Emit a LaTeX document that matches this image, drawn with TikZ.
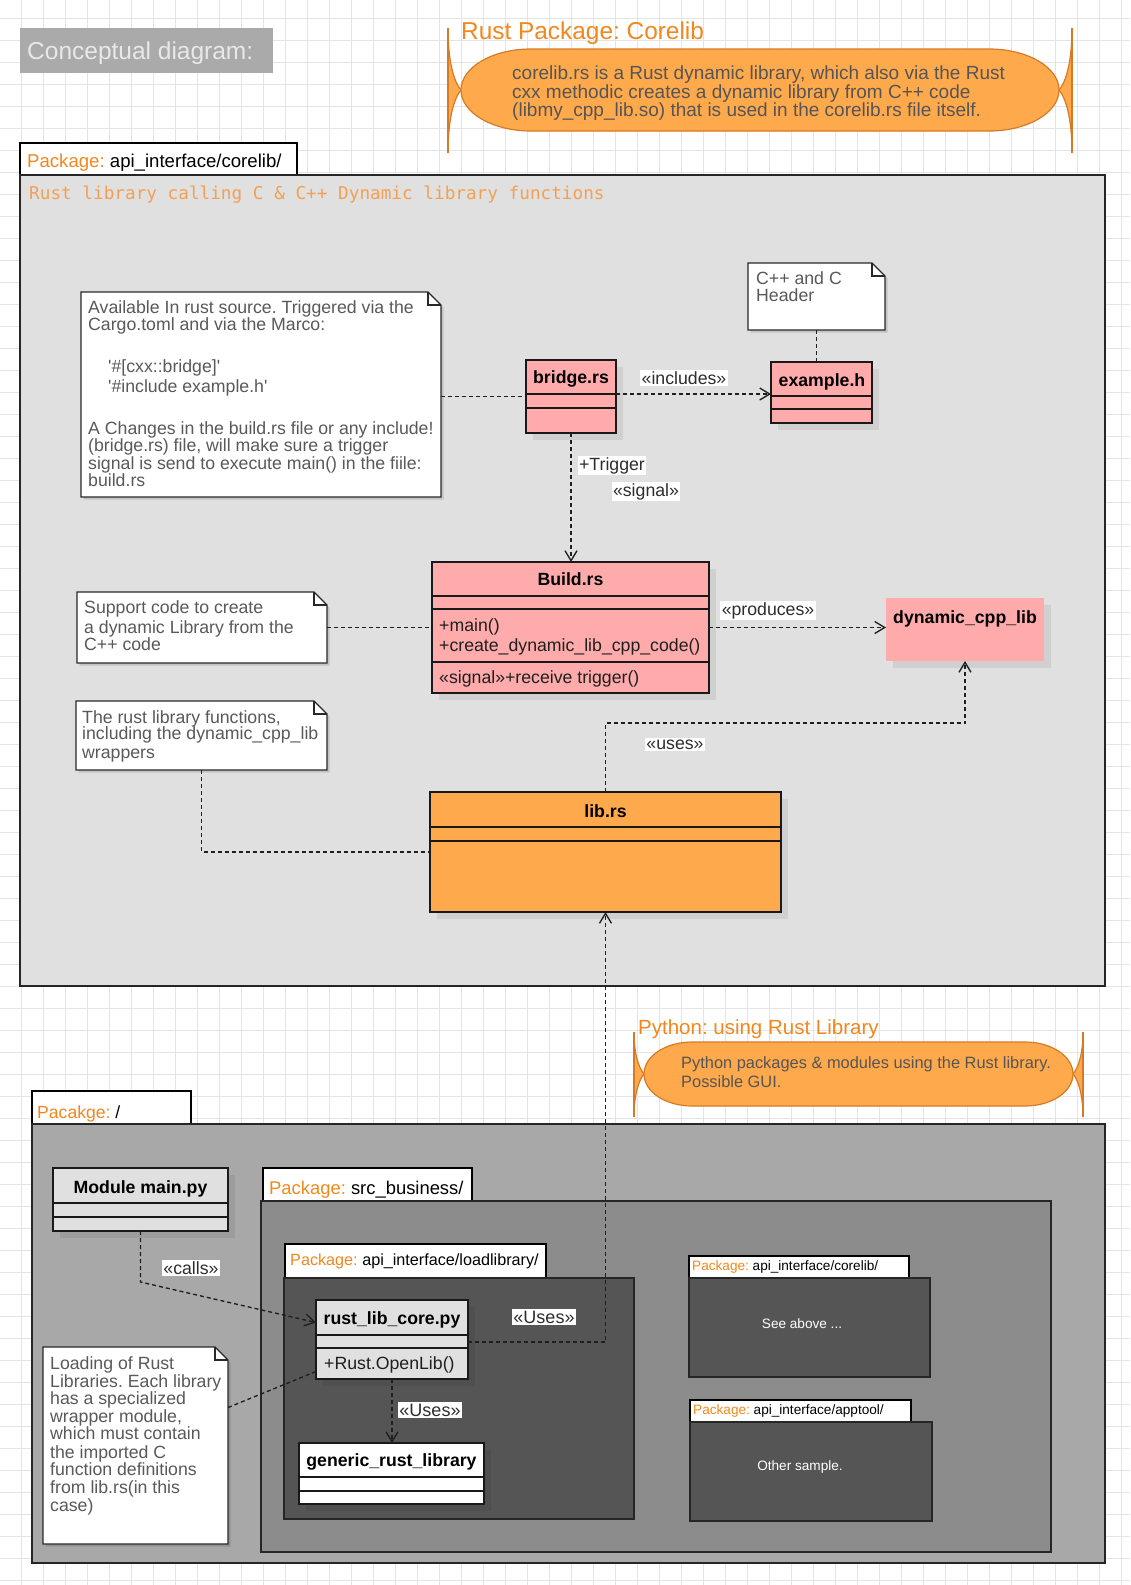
\documentclass[tikz,border=0pt]{standalone}
\usepackage{fontspec}
\setmainfont{Liberation Sans}
\newfontfamily\monof{DejaVu Sans Mono}
\newfontfamily\nolig{Liberation Sans}[Ligatures=TeXOff]
\usetikzlibrary{arrows.meta,shadows}
\definecolor{gridc}{RGB}{228,228,228}
\definecolor{orng}{RGB}{240,136,30}
\definecolor{orngmono}{RGB}{243,160,84}
\definecolor{ofill}{RGB}{255,169,77}
\definecolor{oline}{RGB}{214,122,36}
\definecolor{pinkf}{RGB}{255,171,171}
\definecolor{lgray}{RGB}{224,224,224}
\definecolor{mgray}{RGB}{168,168,168}
\definecolor{sgray}{RGB}{140,140,140}
\definecolor{dgray}{RGB}{85,85,85}
\definecolor{notetxt}{RGB}{89,89,89}
\definecolor{notec}{RGB}{40,40,40}
\definecolor{labc}{RGB}{45,45,45}
\definecolor{titlebg}{RGB}{170,170,170}
\definecolor{titletx}{RGB}{232,232,232}
\frenchspacing
\newcommand{\fsz}[1]{\fontsize{#1}{#1}\selectfont\frenchspacing}
\newcommand{\bx}[6]{\node[inner sep=0pt, outer sep=0pt, anchor=north west, minimum width={#4-#2}, minimum height={#5-#3}, #6] (#1) at (#2,-#3) {};}
\newcommand{\sepl}[2]{\draw[line width=1.4pt, black!90] (#1.west |- 0,-#2) -- (#1.east |- 0,-#2);}
\newcommand{\tL}[6]{\node[inner sep=0pt, anchor=base west, font=\fsz{#4}, text=#5] (#1) at (#2,{-#3-0.35*#4}) {#6};}
\newcommand{\tC}[6]{\node[inner sep=0pt, anchor=base, font=\fsz{#4}, text=#5] (#1) at (#2,{-#3-0.35*#4}) {#6};}
\newcommand{\lB}[5]{\node[inner sep=1.5pt, anchor=base, fill=white, font=\fsz{#4}, text=labc] (#1) at (#2,{-#3-0.35*#4}) {#5};}
\newcommand{\noteshape}[1]{%
  \fill[black,opacity=0.13] ([shift={(2.5pt,-2.5pt)}]#1.north west) -- ([shift={(-10.5pt,-2.5pt)}]#1.north east) -- ([shift={(2.5pt,-15.5pt)}]#1.north east) -- ([shift={(2.5pt,-2.5pt)}]#1.south east) -- ([shift={(2.5pt,-2.5pt)}]#1.south west) -- cycle;
  \filldraw[fill=white, draw=notec, line width=1.2pt] (#1.north west) -- ([xshift=-13pt]#1.north east) -- ([yshift=-13pt]#1.north east) -- (#1.south east) -- (#1.south west) -- cycle;
  \draw[notec, line width=1.2pt] ([xshift=-13pt]#1.north east) |- ([yshift=-13pt]#1.north east);}
\begin{document}
\begin{tikzpicture}[x=1pt,y=1pt,
  pkgtab/.style={fill=white, draw=black, line width=1.3pt},
  pkgbody/.style={draw=black!85, line width=1.5pt},
  cls/.style={draw=black!90, line width=1.4pt, drop shadow={shadow xshift=7pt, shadow yshift=-7pt, opacity=0.07, fill=black}},
  dsh/.style={line width=1.35pt, draw=black!88, dash pattern=on 4pt off 3pt},
  arr/.style={dsh, -{Straight Barb[length=10pt,width=12pt]}},
  oshape/.style={fill=ofill, draw=oline, line width=1.2pt}]
\useasboundingbox (0,0) rectangle (1130,-1585);
\fill[white] (0,0) rectangle (1130,-1585);
\foreach \i in {0,...,50} {\draw[gridc, line width=1pt] ({21+22*\i},0) -- ({21+22*\i},-1585);}
\foreach \j in {0,...,71} {\draw[gridc, line width=1pt] (0,{-18-22*\j}) -- (1130,{-18-22*\j});}

% ---------- title ----------
\bx{titlebox}{20}{28}{273}{73}{fill=titlebg}
\tL{t0}{27}{51}{24.5}{titletx}{Conceptual diagram:}

% ---------- corelib description shape ----------
\tL{t1}{461}{31}{24.4}{orng}{Rust Package: Corelib}
\fill[ofill] (448,-28) .. controls (448,-62) and (454,-82) .. (461,-90) .. controls (454,-98) and (448,-119) .. (448,-153) -- cycle;
\fill[ofill] (1072,-28) .. controls (1072,-62) and (1066,-82) .. (1059,-90) .. controls (1066,-98) and (1072,-119) .. (1072,-153) -- cycle;
\draw[oline, line width=1.2pt] (448,-28) .. controls (448,-62) and (454,-82) .. (461,-90) .. controls (454,-98) and (448,-119) .. (448,-153);
\draw[oline, line width=1.2pt] (1072,-28) .. controls (1072,-62) and (1066,-82) .. (1059,-90) .. controls (1066,-98) and (1072,-119) .. (1072,-153);
\filldraw[oshape] (531,-49) -- (989,-49) arc[start angle=90, end angle=-90, x radius=70, y radius=41] -- (531,-131) arc[start angle=270, end angle=90, x radius=70, y radius=41] -- cycle;
\draw[oline, line width=1.5pt] (448,-28) -- (448,-153);
\draw[oline, line width=1.5pt] (1072,-28) -- (1072,-153);
\tL{t2}{512}{73}{19}{dgray}{corelib.rs is a Rust dynamic library, which also via the Rust}
\tL{t3}{512}{92}{19}{dgray}{cxx methodic creates a dynamic library from C++ code}
\tL{t4}{512}{110}{19}{dgray}{(libmy\_cpp\_lib.so) that is used in the corelib.rs file itself.}

% ---------- package corelib ----------
\bx{tab1}{20}{143}{297}{175}{pkgtab}
\tL{t5}{27}{161}{18.6}{black}{\textcolor{orng}{Package:} api\_interface/corelib/}
\bx{body1}{20}{175}{1105}{986}{pkgbody, fill=lgray}
\tL{t6}{29}{193}{17.7}{orngmono}{\monof Rust library calling C \& C++ Dynamic library functions}

% note 1
\bx{note1}{81}{292}{441}{497}{}
\noteshape{note1}
\tL{n1a}{88}{307}{17.7}{notetxt}{Available In rust source. Triggered via the}
\tL{n1b}{88}{324}{17.7}{notetxt}{Cargo.toml and via the Marco:}
\tL{n1c}{108}{366}{17.7}{notetxt}{\nolig '\#[cxx::bridge]'}
\tL{n1d}{108}{386}{17.7}{notetxt}{\nolig '\#include example.h'}
\tL{n1e}{88}{428}{17.7}{notetxt}{A Changes in the build.rs file or any include!}
\tL{n1f}{88}{445}{17.7}{notetxt}{(bridge.rs) file, will make sure a trigger}
\tL{n1g}{88}{463}{17.7}{notetxt}{signal is send to execute main() in the fiile:}
\tL{n1h}{88}{480}{17.7}{notetxt}{build.rs}

% C++ header note
\bx{cnote}{748}{263}{885}{330}{}
\noteshape{cnote}
\tL{c1}{756}{278}{17.7}{notetxt}{C++ and C}
\tL{c2}{756}{295}{17.7}{notetxt}{Header}

% bridge.rs
\bx{bridge}{526}{360}{616}{433}{cls, fill=pinkf}
\sepl{bridge}{394}\sepl{bridge}{408}
\tC{bt}{571}{377}{17.7}{black}{\bfseries bridge.rs}

% example.h
\bx{exh}{771}{362}{872}{423}{cls, fill=pinkf}
\sepl{exh}{396}\sepl{exh}{409}
\tC{et}{822}{380}{17.7}{black}{\bfseries example.h}

% Build.rs
\bx{build}{432}{562}{709}{693}{cls, fill=pinkf}
\sepl{build}{596}\sepl{build}{609}\sepl{build}{662}
\tC{bdt}{570.5}{579}{17.7}{black}{\bfseries Build.rs}
\tL{bm1}{439}{625}{17.7}{black!88}{+main()}
\tL{bm2}{439}{645}{17.7}{black!88}{+create\_dynamic\_lib\_cpp\_code()}
\tL{bm3}{439}{677}{17.7}{black!88}{«signal»+receive trigger()}

% support note
\bx{snote}{77}{592}{327}{663}{}
\noteshape{snote}
\tL{s1}{84}{607}{17.7}{notetxt}{Support code to create}
\tL{s2}{84}{627}{17.7}{notetxt}{a dynamic Library from the}
\tL{s3}{84}{644}{17.7}{notetxt}{C++ code}

% dynamic_cpp_lib
\bx{dyn}{886}{598}{1044}{661}{fill=pinkf, drop shadow={shadow xshift=7pt, shadow yshift=-7pt, opacity=0.07, fill=black}}
\tC{dt}{965}{617}{17.7}{black}{\bfseries dynamic\_cpp\_lib}

% rust note
\bx{rnote}{76}{701}{327}{770}{}
\noteshape{rnote}
\tL{r1}{82}{717}{17.7}{notetxt}{The rust library functions,}
\tL{r2}{82}{733}{17.7}{notetxt}{including the dynamic\_cpp\_lib}
\tL{r3}{82}{752}{17.7}{notetxt}{wrappers}

% lib.rs
\bx{lib}{430}{792}{781}{912}{cls, fill=ofill}
\sepl{lib}{827}\sepl{lib}{841}
\tC{lt}{605.5}{811}{17.7}{black}{\bfseries lib.rs}

% ---------- python description shape ----------
\tL{p0}{638}{1027}{20.5}{orng}{Python: using Rust Library}
\fill[ofill] (634,-1032) .. controls (634,-1055) and (639,-1068) .. (644,-1074) .. controls (639,-1080) and (634,-1094) .. (634,-1117) -- cycle;
\fill[ofill] (1083,-1032) .. controls (1083,-1055) and (1078,-1068) .. (1073,-1074) .. controls (1078,-1080) and (1083,-1094) .. (1083,-1117) -- cycle;
\draw[oline, line width=1.2pt] (634,-1032) .. controls (634,-1055) and (639,-1068) .. (644,-1074) .. controls (639,-1080) and (634,-1094) .. (634,-1117);
\draw[oline, line width=1.2pt] (1083,-1032) .. controls (1083,-1055) and (1078,-1068) .. (1073,-1074) .. controls (1078,-1080) and (1083,-1094) .. (1083,-1117);
\filldraw[oshape] (692,-1042) -- (1025,-1042) arc[start angle=90, end angle=-90, x radius=48, y radius=32] -- (692,-1106) arc[start angle=270, end angle=90, x radius=48, y radius=32] -- cycle;
\draw[oline, line width=1.5pt] (634,-1032) -- (634,-1117);
\draw[oline, line width=1.5pt] (1083,-1032) -- (1083,-1117);
\tL{p1}{681}{1063}{16.4}{dgray}{Python packages \& modules using the Rust library.}
\tL{p2}{681}{1082}{16.4}{dgray}{Possible GUI.}

% ---------- python package ----------
\bx{tab2}{32}{1091}{191}{1124}{pkgtab}
\tL{t7}{37}{1112}{17.6}{black}{\textcolor{orng}{Pacakge:} /}
\bx{body2}{32}{1124}{1105}{1563}{pkgbody, fill=mgray}

\bx{mainpy}{53}{1168}{228}{1231}{cls, fill=lgray}
\sepl{mainpy}{1203}\sepl{mainpy}{1217}
\tC{mt}{140.5}{1187}{17.7}{black}{\bfseries Module main.py}

\bx{tab3}{263}{1168}{472}{1201}{pkgtab}
\tL{t8}{269}{1188}{18.4}{black}{\textcolor{orng}{Package:} src\_business/}
\bx{body3}{261}{1201}{1051}{1552}{pkgbody, fill=sgray}

\bx{tab4}{285}{1244}{546}{1278}{pkgtab}
\tL{t9}{290}{1260}{16.2}{black}{\textcolor{orng}{Package:} api\_interface/loadlibrary/}
\bx{body4}{284}{1278}{634}{1519}{pkgbody, fill=dgray}

\bx{core}{316}{1300}{468}{1379}{cls, fill=lgray}
\sepl{core}{1335}\sepl{core}{1348}
\tC{ct}{392}{1318}{17.7}{black}{\bfseries rust\_lib\_core.py}
\tL{cm}{324}{1363}{17.7}{black!88}{+Rust.OpenLib()}

\bx{generic}{299}{1443}{484}{1504}{cls, fill=white}
\sepl{generic}{1477}\sepl{generic}{1491}
\tC{gt}{391.5}{1460}{17.7}{black}{\bfseries generic\_rust\_library}

\bx{lnote}{43}{1347}{228}{1544}{}
\noteshape{lnote}
\tL{l1}{50}{1363}{17.7}{notetxt}{Loading of Rust}
\tL{l2}{50}{1381}{17.7}{notetxt}{Libraries. Each library}
\tL{l3}{50}{1398}{17.7}{notetxt}{has a specialized}
\tL{l4}{50}{1416}{17.7}{notetxt}{wrapper module,}
\tL{l5}{50}{1433}{17.7}{notetxt}{which must contain}
\tL{l6}{50}{1452}{17.7}{notetxt}{the imported C}
\tL{l7}{50}{1469}{17.7}{notetxt}{function definitions}
\tL{l8}{50}{1487}{17.7}{notetxt}{from lib.rs(in this}
\tL{l9}{50}{1505}{17.7}{notetxt}{case)}

\bx{tab5}{689}{1256}{909}{1278}{pkgtab}
\tL{t10}{692}{1266}{13.6}{black}{\textcolor{orng}{Package:} api\_interface/corelib/}
\bx{body5}{689}{1278}{930}{1377}{pkgbody, fill=dgray}
\tC{t11}{802}{1324}{13.6}{white}{See above ...}

\bx{tab6}{690}{1400}{911}{1422}{pkgtab}
\tL{t12}{693}{1410}{13.6}{black}{\textcolor{orng}{Package:} api\_interface/apptool/}
\bx{body6}{690}{1422}{932}{1521}{pkgbody, fill=dgray}
\tC{t13}{800}{1466}{13.6}{white}{Other sample.}

% ---------- connectors ----------
\draw[dsh] (note1.east |- bridge.west) -- (bridge.west);
\draw[dsh] (cnote.south) -- (cnote.south |- exh.north);
\draw[arr] ([yshift=2.5pt]bridge.east) -- ([yshift=2.5pt]bridge.east -| exh.west);
\draw[arr] (bridge.south) -- (bridge.south |- build.north);
\draw[dsh] (snote.east) -- (snote.east -| build.west);
\draw[arr] (build.east) -- (build.east -| dyn.west);
\draw[arr] (lib.north) -- ++(0,69) -| (dyn.south);
\draw[dsh] (rnote.south) |- (lib.west);
\draw[arr] ([yshift=-2.5pt]core.east) -| (lib.south);
\draw[arr] (mainpy.south) -- ++(0,-51) -- ([yshift=17pt]core.west);
\draw[arr] (core.south) -- (core.south |- generic.north);
\draw[dsh] ([yshift=38pt]lnote.east) -- ([yshift=-32pt]core.west);

% ---------- connector labels ----------
\lB{L1}{684}{378}{17.7}{«includes»}
\lB{L2}{612}{464}{17.7}{+Trigger}
\lB{L3}{646}{490}{17.7}{«signal»}
\lB{L4}{768}{609}{17.7}{«produces»}
\lB{L5}{675}{743}{17.7}{«uses»}
\lB{L6}{191}{1268}{17.7}{«calls»}
\lB{L7}{544}{1317}{18}{«Uses»}
\lB{L8}{430}{1410}{18}{«Uses»}
\end{tikzpicture}
\end{document}
